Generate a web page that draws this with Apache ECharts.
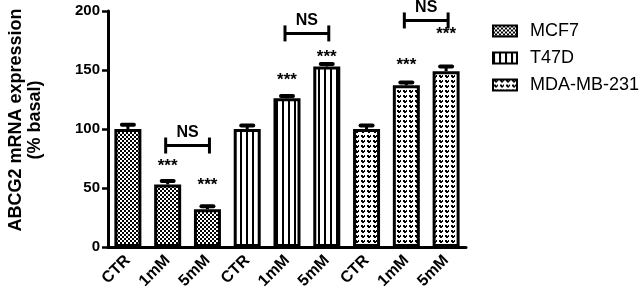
<!DOCTYPE html>
<html>
<head>
<meta charset="utf-8">
<script src="https://cdn.jsdelivr.net/npm/echarts@6/dist/echarts.min.js"></script>
<style>
html,body{margin:0;padding:0;background:#fff;}
#chart{width:643px;height:297px;}
</style>
</head>
<body>
<div id="chart"></div>
<script>
// ---- data ----
const categories = ['CTR','1mM','5mM','CTR','1mM','5mM','CTR','1mM','5mM'];
const seriesNames = ['MCF7','T47D','MDA-MB-231'];
const mcf7Values = [100, 53, 32];
const t47dValues = [100, 126, 153];
const mdaValues  = [100, 137, 149];
const mcf7Err = [3.5, 3, 2.5];
const t47dErr = [3, 2, 2];
const mdaErr  = [3, 2.5, 4];
// significance stars: [category index, label level (value units)]
const starMarks = [[1, 68], [2, 52], [4, 141], [5, 161], [7, 154], [8, 180]];
// NS brackets: [start category, end category, level (value units)]
const nsBrackets = [[1, 2, 86], [4, 5, 181], [7, 8, 192]];
const yTicks = [0, 50, 100, 150, 200];

// ---- patterns ----
function makePattern(w, h, draw) {
  const c = document.createElement('canvas');
  c.width = w; c.height = h;
  const ctx = c.getContext('2d');
  draw(ctx);
  return { image: c, repeat: 'repeat' };
}
const patMCF7 = makePattern(4, 4, ctx => {
  ctx.fillStyle = '#000'; ctx.fillRect(0, 0, 4, 4);
  ctx.fillStyle = '#fff';
  ctx.fillRect(0, 0, 2, 2); ctx.fillRect(2, 2, 2, 2);
});
const patT47D = makePattern(6, 4, ctx => {
  ctx.fillStyle = '#fff'; ctx.fillRect(0, 0, 6, 4);
  ctx.fillStyle = '#000'; ctx.fillRect(0, 0, 2, 4);
});
const patMDA = makePattern(6, 5, ctx => {
  ctx.fillStyle = '#fff'; ctx.fillRect(0, 0, 6, 5);
  ctx.fillStyle = '#000';
  ctx.fillRect(1, 0, 2, 2); ctx.fillRect(4, 0, 1, 2);
  ctx.fillRect(1, 1, 4, 1); ctx.fillRect(2, 2, 2, 1);
});
const patterns = [patMCF7, patT47D, patMDA];

function padded(vals, offset) {
  const arr = categories.map(() => '-');
  vals.forEach((v, i) => { arr[offset + i] = v; });
  return arr;
}
const allVals = [mcf7Values, t47dValues, mdaValues];
const allErr = [mcf7Err, t47dErr, mdaErr];

const barSeries = seriesNames.map((name, s) => ({
  name: name,
  type: 'bar',
  data: padded(allVals[s], s * 3),
  barWidth: 27,
  barGap: '-100%',
  itemStyle: { color: patterns[s], borderColor: '#000', borderWidth: 3 },
  emphasis: { disabled: true },
  z: 2
}));

const errData = [];
allVals.forEach((vals, s) => vals.forEach((v, i) => errData.push([s * 3 + i, v, allErr[s][i]])));

const FONT = 'Liberation Sans, Arial, sans-serif';

const option = {
  animation: false,
  grid: { left: 108, right: 177, top: 11, bottom: 50 },
  legend: {
    orient: 'vertical',
    left: 487,
    top: 17,
    itemWidth: 24,
    itemHeight: 11,
    itemGap: 9,
    icon: 'rect',
    data: seriesNames,
    textStyle: { fontFamily: FONT, fontSize: 18, color: '#000', padding: [0, 0, 0, 8] },
    selectedMode: false
  },
  xAxis: {
    type: 'category',
    data: categories,
    axisLine: { lineStyle: { color: '#000', width: 3 } },
    axisTick: { alignWithLabel: true, length: 6, lineStyle: { color: '#000', width: 2.5 } },
    axisLabel: { rotate: 45, margin: 11, fontFamily: FONT, fontWeight: 'bold', fontSize: 16, color: '#000' }
  },
  yAxis: {
    type: 'value',
    min: yTicks[0],
    max: yTicks[yTicks.length - 1],
    interval: 50,
    splitLine: { show: false },
    axisLine: { show: true, lineStyle: { color: '#000', width: 3 } },
    axisTick: { show: true, length: 6, lineStyle: { color: '#000', width: 2.5 } },
    axisLabel: { margin: 8, fontFamily: FONT, fontWeight: 'bold', fontSize: 15, color: '#000' }
  },
  graphic: [{
    type: 'text',
    x: 26,
    y: 120,
    rotation: Math.PI / 2,
    style: {
      text: 'ABCG2 mRNA expression\n(% basal)',
      fontFamily: FONT,
      fontWeight: 'bold',
      fontSize: 18,
      lineHeight: 19,
      fill: '#000',
      align: 'center',
      verticalAlign: 'middle'
    }
  }],
  series: barSeries.concat([
    {
      type: 'custom',
      data: errData,
      z: 3,
      silent: true,
      renderItem: function (params, api) {
        const x = api.value(0), v = api.value(1), e = api.value(2);
        const p0 = api.coord([x, v]);
        const p1 = api.coord([x, v + e]);
        return {
          type: 'group',
          children: [
            { type: 'line', shape: { x1: p0[0], y1: p0[1], x2: p1[0], y2: p1[1] }, style: { stroke: '#000', lineWidth: 3 } },
            { type: 'line', shape: { x1: p1[0] - 6, y1: p1[1], x2: p1[0] + 6, y2: p1[1] }, style: { stroke: '#000', lineWidth: 4, lineCap: 'round' } }
          ]
        };
      }
    },
    {
      type: 'custom',
      data: starMarks,
      z: 4,
      silent: true,
      renderItem: function (params, api) {
        const p = api.coord([api.value(0), api.value(1)]);
        return {
          type: 'text',
          x: p[0], y: p[1],
          style: { text: '***', fontFamily: FONT, fontWeight: 'bold', fontSize: 17, fill: '#000', align: 'center', verticalAlign: 'middle' }
        };
      }
    },
    {
      type: 'custom',
      data: nsBrackets,
      z: 4,
      silent: true,
      renderItem: function (params, api) {
        const a = api.coord([api.value(0), api.value(2)]);
        const b = api.coord([api.value(1), api.value(2)]);
        const x1 = a[0] - 2, x2 = b[0] + 2, y = a[1];
        return {
          type: 'group',
          children: [
            { type: 'line', shape: { x1: x1, y1: y, x2: x2, y2: y }, style: { stroke: '#000', lineWidth: 3 } },
            { type: 'line', shape: { x1: x1, y1: y - 8, x2: x1, y2: y + 8 }, style: { stroke: '#000', lineWidth: 3 } },
            { type: 'line', shape: { x1: x2, y1: y - 8, x2: x2, y2: y + 8 }, style: { stroke: '#000', lineWidth: 3 } },
            { type: 'text', x: (x1 + x2) / 2, y: y - 5, style: { text: 'NS', fontFamily: FONT, fontWeight: 'bold', fontSize: 16, fill: '#000', align: 'center', verticalAlign: 'bottom' } }
          ]
        };
      }
    }
  ])
};

const chart = echarts.init(document.getElementById('chart'), null, { renderer: 'canvas' });
chart.setOption(option);
</script>
</body>
</html>
